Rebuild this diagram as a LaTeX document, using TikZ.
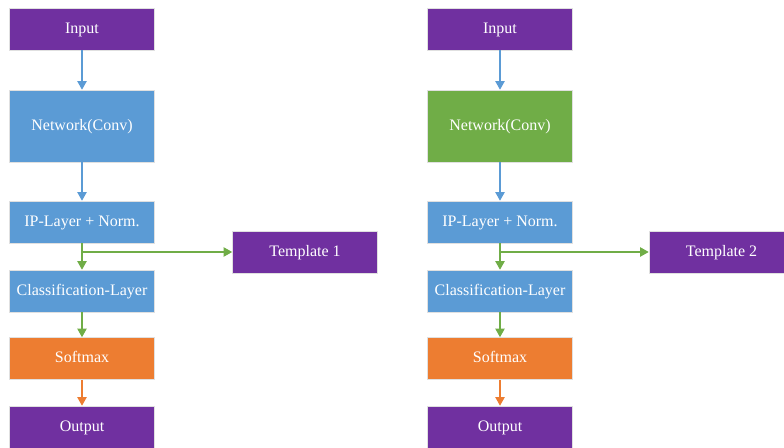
\documentclass[tikz,border=0pt]{standalone}
\usepackage{fontspec}
\setmainfont{Liberation Serif}
\usetikzlibrary{arrows.meta}

\definecolor{violetbox}{HTML}{7030A0}
\definecolor{bluebox}{HTML}{5B9BD5}
\definecolor{greenbox}{HTML}{70AD47}
\definecolor{orangebox}{HTML}{ED7D31}

\begin{document}
\begin{tikzpicture}[x=0.75pt, y=-0.75pt,
    layer/.style = {draw=black!12, line width=0.4pt, text=white, font=\fontsize{12}{14}\selectfont,
                    minimum width=108.75pt, minimum height=31.5pt, inner sep=0pt,
                    text height=0.75em, text depth=0.1em},
    tall/.style = {minimum height=54pt},
    link/.style = {line width=1.1pt, -{Triangle[length=6.5pt, width=7pt]}},
    ]
    \useasboundingbox (0,0) rectangle (784,448);
    % left network
    \node[layer, fill=violetbox] (in1) at (82,29) {Input};
    \node[layer, tall, fill=bluebox] (net1) at (82,126) {Network(Conv)};
    \node[layer, fill=bluebox] (ip1) at (82,222) {IP-Layer + Norm.};
    \node[layer, fill=bluebox] (cls1) at (82,291) {Classification-Layer};
    \node[layer, fill=orangebox] (soft1) at (82,358.5) {Softmax};
    \node[layer, fill=violetbox] (out1) at (82,427) {Output};
    \node[layer, fill=violetbox] (tpl1) at (305,252) {Template 1};
    \coordinate (br1) at (ip1.south |- tpl1.west);
    \draw[link, bluebox] (in1) -- (net1);
    \draw[link, bluebox] (net1) -- (ip1);
    \draw[link, greenbox] (ip1) -- (cls1);
    \draw[link, greenbox] (br1) -- (tpl1);
    \draw[link, greenbox] (cls1) -- (soft1);
    \draw[link, orangebox] (soft1) -- (out1);
    % right network
    \node[layer, fill=violetbox] (in2) at (500,29) {Input};
    \node[layer, tall, fill=greenbox] (net2) at (500,126) {Network(Conv)};
    \node[layer, fill=bluebox] (ip2) at (500,222) {IP-Layer + Norm.};
    \node[layer, fill=bluebox] (cls2) at (500,291) {Classification-Layer};
    \node[layer, fill=orangebox] (soft2) at (500,358.5) {Softmax};
    \node[layer, fill=violetbox] (out2) at (500,427) {Output};
    \node[layer, fill=violetbox] (tpl2) at (721.5,252) {Template 2};
    \coordinate (br2) at (ip2.south |- tpl2.west);
    \draw[link, bluebox] (in2) -- (net2);
    \draw[link, bluebox] (net2) -- (ip2);
    \draw[link, greenbox] (ip2) -- (cls2);
    \draw[link, greenbox] (br2) -- (tpl2);
    \draw[link, greenbox] (cls2) -- (soft2);
    \draw[link, orangebox] (soft2) -- (out2);
\end{tikzpicture}
\end{document}
